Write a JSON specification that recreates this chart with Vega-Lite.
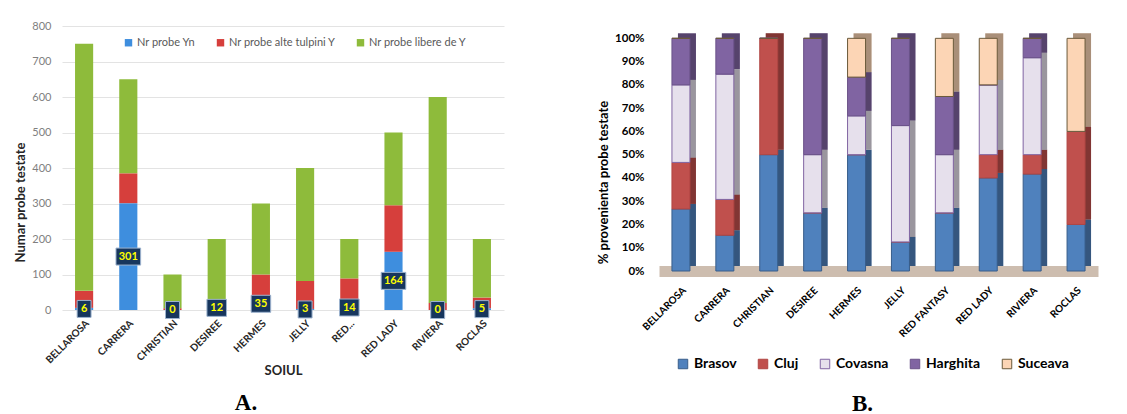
{
  "$schema": "https://vega.github.io/schema/vega-lite/v6.json",
  "background": "white",
  "padding": {"left": 14, "top": 20, "right": 5, "bottom": 0},
  "config": {
    "font": "Lato",
    "view": {"stroke": null},
    "concat": {"spacing": 93}
  },
  "resolve": {
    "scale": {"color": "independent", "stroke": "independent", "x": "independent", "y": "independent", "shape": "independent"},
    "legend": {"color": "independent", "stroke": "independent"}
  },
  "datasets": {
    "a": [
      {"soi": "BELLAROSA", "serie": "Nr probe Yn", "n": 6},
      {"soi": "BELLAROSA", "serie": "Nr probe alte tulpini Y", "n": 48},
      {"soi": "BELLAROSA", "serie": "Nr probe libere de Y", "n": 696},
      {"soi": "CARRERA", "serie": "Nr probe Yn", "n": 301},
      {"soi": "CARRERA", "serie": "Nr probe alte tulpini Y", "n": 84},
      {"soi": "CARRERA", "serie": "Nr probe libere de Y", "n": 265},
      {"soi": "CHRISTIAN", "serie": "Nr probe Yn", "n": 0},
      {"soi": "CHRISTIAN", "serie": "Nr probe alte tulpini Y", "n": 5},
      {"soi": "CHRISTIAN", "serie": "Nr probe libere de Y", "n": 95},
      {"soi": "DESIREE", "serie": "Nr probe Yn", "n": 12},
      {"soi": "DESIREE", "serie": "Nr probe alte tulpini Y", "n": 8},
      {"soi": "DESIREE", "serie": "Nr probe libere de Y", "n": 180},
      {"soi": "HERMES", "serie": "Nr probe Yn", "n": 35},
      {"soi": "HERMES", "serie": "Nr probe alte tulpini Y", "n": 65},
      {"soi": "HERMES", "serie": "Nr probe libere de Y", "n": 200},
      {"soi": "JELLY", "serie": "Nr probe Yn", "n": 3},
      {"soi": "JELLY", "serie": "Nr probe alte tulpini Y", "n": 79},
      {"soi": "JELLY", "serie": "Nr probe libere de Y", "n": 318},
      {"soi": "RED FANTASY", "serie": "Nr probe Yn", "n": 14},
      {"soi": "RED FANTASY", "serie": "Nr probe alte tulpini Y", "n": 75},
      {"soi": "RED FANTASY", "serie": "Nr probe libere de Y", "n": 111},
      {"soi": "RED LADY", "serie": "Nr probe Yn", "n": 164},
      {"soi": "RED LADY", "serie": "Nr probe alte tulpini Y", "n": 131},
      {"soi": "RED LADY", "serie": "Nr probe libere de Y", "n": 205},
      {"soi": "RIVIERA", "serie": "Nr probe Yn", "n": 0},
      {"soi": "RIVIERA", "serie": "Nr probe alte tulpini Y", "n": 20},
      {"soi": "RIVIERA", "serie": "Nr probe libere de Y", "n": 580},
      {"soi": "ROCLAS", "serie": "Nr probe Yn", "n": 5},
      {"soi": "ROCLAS", "serie": "Nr probe alte tulpini Y", "n": 30},
      {"soi": "ROCLAS", "serie": "Nr probe libere de Y", "n": 165}
    ],
    "b": [
      {"soi": "BELLAROSA", "judet": "Brasov", "n": 200},
      {"soi": "BELLAROSA", "judet": "Cluj", "n": 150},
      {"soi": "BELLAROSA", "judet": "Covasna", "n": 250},
      {"soi": "BELLAROSA", "judet": "Harghita", "n": 150},
      {"soi": "BELLAROSA", "judet": "Suceava", "n": 0},
      {"soi": "CARRERA", "judet": "Brasov", "n": 100},
      {"soi": "CARRERA", "judet": "Cluj", "n": 100},
      {"soi": "CARRERA", "judet": "Covasna", "n": 350},
      {"soi": "CARRERA", "judet": "Harghita", "n": 100},
      {"soi": "CARRERA", "judet": "Suceava", "n": 0},
      {"soi": "CHRISTIAN", "judet": "Brasov", "n": 50},
      {"soi": "CHRISTIAN", "judet": "Cluj", "n": 50},
      {"soi": "CHRISTIAN", "judet": "Covasna", "n": 0},
      {"soi": "CHRISTIAN", "judet": "Harghita", "n": 0},
      {"soi": "CHRISTIAN", "judet": "Suceava", "n": 0},
      {"soi": "DESIREE", "judet": "Brasov", "n": 50},
      {"soi": "DESIREE", "judet": "Cluj", "n": 0},
      {"soi": "DESIREE", "judet": "Covasna", "n": 50},
      {"soi": "DESIREE", "judet": "Harghita", "n": 100},
      {"soi": "DESIREE", "judet": "Suceava", "n": 0},
      {"soi": "HERMES", "judet": "Brasov", "n": 150},
      {"soi": "HERMES", "judet": "Cluj", "n": 0},
      {"soi": "HERMES", "judet": "Covasna", "n": 50},
      {"soi": "HERMES", "judet": "Harghita", "n": 50},
      {"soi": "HERMES", "judet": "Suceava", "n": 50},
      {"soi": "JELLY", "judet": "Brasov", "n": 50},
      {"soi": "JELLY", "judet": "Cluj", "n": 0},
      {"soi": "JELLY", "judet": "Covasna", "n": 200},
      {"soi": "JELLY", "judet": "Harghita", "n": 150},
      {"soi": "JELLY", "judet": "Suceava", "n": 0},
      {"soi": "RED FANTASY", "judet": "Brasov", "n": 50},
      {"soi": "RED FANTASY", "judet": "Cluj", "n": 0},
      {"soi": "RED FANTASY", "judet": "Covasna", "n": 50},
      {"soi": "RED FANTASY", "judet": "Harghita", "n": 50},
      {"soi": "RED FANTASY", "judet": "Suceava", "n": 50},
      {"soi": "RED LADY", "judet": "Brasov", "n": 200},
      {"soi": "RED LADY", "judet": "Cluj", "n": 50},
      {"soi": "RED LADY", "judet": "Covasna", "n": 150},
      {"soi": "RED LADY", "judet": "Harghita", "n": 0},
      {"soi": "RED LADY", "judet": "Suceava", "n": 100},
      {"soi": "RIVIERA", "judet": "Brasov", "n": 250},
      {"soi": "RIVIERA", "judet": "Cluj", "n": 50},
      {"soi": "RIVIERA", "judet": "Covasna", "n": 250},
      {"soi": "RIVIERA", "judet": "Harghita", "n": 50},
      {"soi": "RIVIERA", "judet": "Suceava", "n": 0},
      {"soi": "ROCLAS", "judet": "Brasov", "n": 40},
      {"soi": "ROCLAS", "judet": "Cluj", "n": 80},
      {"soi": "ROCLAS", "judet": "Covasna", "n": 0},
      {"soi": "ROCLAS", "judet": "Harghita", "n": 0},
      {"soi": "ROCLAS", "judet": "Suceava", "n": 80}
    ]
  },
  "hconcat": [
    {
      "title": {"text": "A.", "orient": "bottom", "font": "Liberation Serif", "fontSize": 23, "fontWeight": "bold", "color": "black", "offset": 14, "anchor": "middle", "frame": "group", "dx": -37},
      "width": 442,
      "height": 284,
      "data": {"name": "a"},
      "encoding": {
        "x": {
          "field": "soi", "type": "nominal", "sort": null,
          "scale": {"paddingInner": 0.59, "paddingOuter": 0.295},
          "title": "SOIUL",
          "axis": {
            "labelAngle": -45, "labelFontSize": 10, "labelFontWeight": "bold", "labelColor": "#262626",
            "labelExpr": "datum.label == 'RED FANTASY' ? 'RED...' : datum.label",
            "labelPadding": 8, "ticks": false, "domain": false,
            "titleFontSize": 13, "titleFontWeight": "bold", "titleColor": "#262626", "titlePadding": 0
          }
        }
      },
      "layer": [
        {
          "mark": {"type": "bar"},
          "encoding": {
            "y": {
              "field": "n", "type": "quantitative", "stack": "zero",
              "scale": {"domain": [0, 800]},
              "title": "Numar probe testate",
              "axis": {
                "values": [0, 100, 200, 300, 400, 500, 600, 700, 800],
                "labelColor": "#7F7F7F", "labelFontSize": 11, "labelPadding": 11,
                "ticks": false, "domain": false, "gridColor": "#E3E3E3",
                "titleFontSize": 13, "titleFontWeight": "bold", "titleColor": "#262626", "titlePadding": 4, "titleY": 176
              }
            },
            "order": {"field": "serie", "type": "nominal", "sort": "ascending"},
            "color": {
              "field": "serie", "type": "nominal",
              "scale": {
                "domain": ["Nr probe Yn", "Nr probe alte tulpini Y", "Nr probe libere de Y"],
                "range": ["#3E8EDE", "#D63F3C", "#8EBB3B"]
              },
              "legend": {
                "orient": "none", "legendX": 61, "legendY": 11, "direction": "horizontal",
                "title": null, "symbolType": "square", "symbolSize": 55, "symbolStrokeWidth": 0,
                "labelFontSize": 11, "labelColor": "#595959", "columnPadding": 19, "labelOffset": 3
              }
            }
          }
        },
        {
          "transform": [
            {"filter": "datum.serie == 'Nr probe Yn'"},
            {"calculate": "datum.n / 2", "as": "mid"}
          ],
          "mark": {"type": "point", "filled": true, "color": "#17365D", "stroke": "#9DB3CF", "strokeWidth": 1, "opacity": 1, "size": 289},
          "encoding": {
            "y": {
              "field": "mid", "type": "quantitative", "title": "Numar probe testate",
              "axis": {
                "values": [0, 100, 200, 300, 400, 500, 600, 700, 800],
                "labelColor": "#7F7F7F", "labelFontSize": 11, "labelPadding": 11,
                "ticks": false, "domain": false, "gridColor": "#E3E3E3",
                "titleFontSize": 13, "titleFontWeight": "bold", "titleColor": "#262626", "titlePadding": 4, "titleY": 176
              }
            },
            "shape": {
              "condition": [
                {"test": "datum.n >= 100", "value": "M-1.45,-1H1.45V1H-1.45Z"},
                {"test": "datum.n >= 10", "value": "M-1.15,-1H1.15V1H-1.15Z"}
              ],
              "value": "M-0.82,-1H0.82V1H-0.82Z"
            }
          }
        },
        {
          "transform": [
            {"filter": "datum.serie == 'Nr probe Yn'"},
            {"calculate": "datum.n / 2", "as": "mid"}
          ],
          "mark": {"type": "text", "color": "#FFFF00", "fontWeight": "bold", "fontSize": 11, "baseline": "middle", "align": "center"},
          "encoding": {
            "y": {
              "field": "mid", "type": "quantitative", "title": "Numar probe testate",
              "axis": {
                "values": [0, 100, 200, 300, 400, 500, 600, 700, 800],
                "labelColor": "#7F7F7F", "labelFontSize": 11, "labelPadding": 11,
                "ticks": false, "domain": false, "gridColor": "#E3E3E3",
                "titleFontSize": 13, "titleFontWeight": "bold", "titleColor": "#262626", "titlePadding": 4, "titleY": 176
              }
            },
            "text": {"field": "n", "type": "quantitative"}
          }
        }
      ]
    },
    {
      "title": {"text": "B.", "orient": "bottom", "font": "Liberation Serif", "fontSize": 23, "fontWeight": "bold", "color": "black", "offset": 22, "anchor": "middle", "frame": "group", "dx": -16},
      "width": 439,
      "height": 245,
      "data": {"name": "b"},
      "encoding": {
        "x": {
          "field": "soi", "type": "nominal", "sort": null,
          "scale": {"paddingInner": 0.59, "paddingOuter": 0.295},
          "title": null,
          "axis": {
            "labelAngle": -45, "labelFontSize": 10, "labelFontWeight": "bold", "labelColor": "black",
            "labelPadding": 14, "ticks": false, "domain": true, "domainColor": "#CDBDAF", "domainWidth": 11
          }
        },
        "y": {
          "field": "n", "type": "quantitative", "stack": "normalize",
          "scale": {"domain": [0, 1.053]},
          "title": "% provenienta probe testate",
          "axis": {
            "values": [0, 0.1, 0.2, 0.3, 0.4, 0.5, 0.6, 0.7, 0.8, 0.9, 1],
            "format": ".0%", "grid": false, "ticks": false, "domain": false,
            "labelFontSize": 11.5, "labelFontWeight": "bold", "labelColor": "black", "labelPadding": 15,
            "titleFontSize": 13, "titleFontWeight": "bold", "titleColor": "black", "titlePadding": 4, "titleY": 156
          }
        },
        "order": {"field": "judet", "type": "nominal", "sort": "ascending"},
        "detail": {"field": "judet", "type": "nominal"}
      },
      "layer": [
        {
          "mark": {"type": "bar", "xOffset": 6, "yOffset": -5},
          "encoding": {
            "color": {
              "field": "judet", "type": "nominal",
              "scale": {
                "domain": ["Brasov", "Cluj", "Covasna", "Harghita", "Suceava"],
                "range": ["#4F81BD", "#C0504D", "#E6E0EC", "#8064A2", "#FCD5B5"]
              }
            }
          }
        },
        {
          "mark": {"type": "bar", "xOffset": 6, "yOffset": -5, "color": "black", "opacity": 0.33}
        },
        {
          "mark": {"type": "bar", "strokeWidth": 1},
          "encoding": {
            "color": {
              "field": "judet", "type": "nominal",
              "scale": {
                "domain": ["Brasov", "Cluj", "Covasna", "Harghita", "Suceava"],
                "range": ["#4F81BD", "#C0504D", "#E6E0EC", "#8064A2", "#FCD5B5"]
              },
              "legend": {
                "orient": "none", "legendX": 17, "legendY": 331, "direction": "horizontal", "title": null,
                "symbolType": "square", "symbolSize": 90, "symbolStrokeWidth": 1, "symbolStrokeColor": "#404040",
                "labelFontSize": 14, "labelFontWeight": "bold", "labelColor": "black",
                "columnPadding": 19, "labelOffset": 4
              }
            },
            "stroke": {
              "field": "judet", "type": "nominal",
              "scale": {
                "domain": ["Brasov", "Cluj", "Covasna", "Harghita", "Suceava"],
                "range": ["#385D8A", "#B04643", "#8064A2", "#6A5288", "#6B5A3A"]
              },
              "legend": null
            }
          }
        }
      ]
    }
  ]
}
